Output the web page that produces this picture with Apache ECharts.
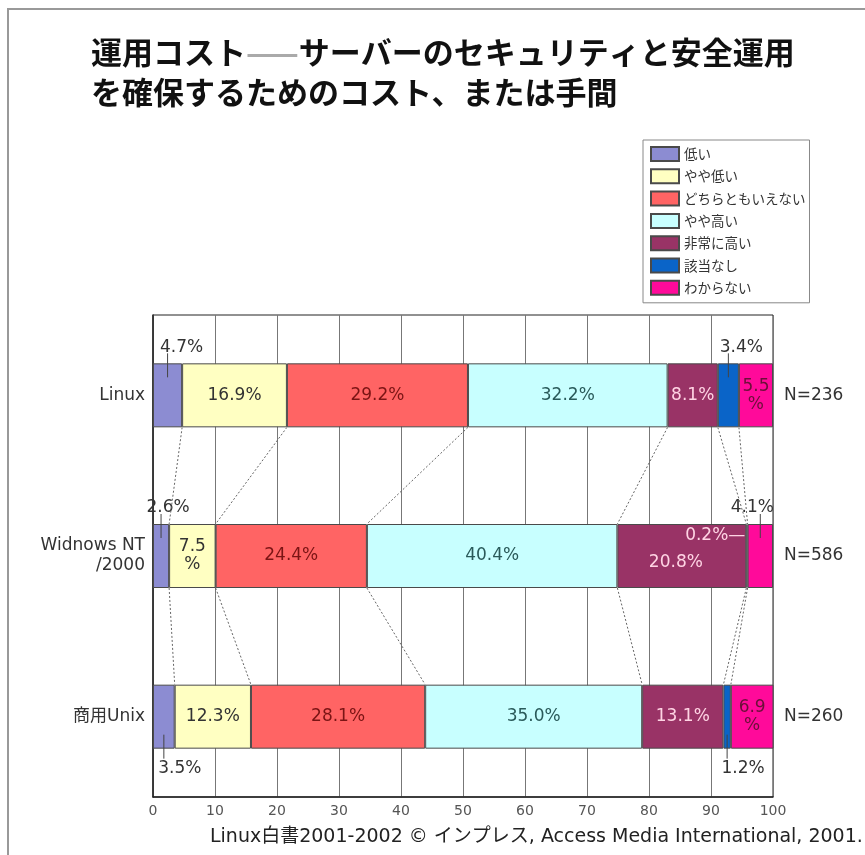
<!DOCTYPE html>
<html>
<head>
<meta charset="utf-8">
<script src="https://cdn.jsdelivr.net/npm/echarts@6/dist/echarts.min.js"></script>
<style>
html,body{margin:0;padding:0;background:#fff;}
#chart{width:865px;height:855px;}
</style>
</head>
<body>
<div id="chart"></div>
<script>
// ---- data ----
const categories = ['Linux', 'Widnows NT\n/2000', '商用Unix'];
const nLabels = ['N=236', 'N=586', 'N=260'];
const seriesNames = ['低い', 'やや低い', 'どちらともいえない', 'やや高い', '非常に高い', '該当なし', 'わからない'];
const low          = [4.7, 2.6, 3.5];
const slightlyLow  = [16.9, 7.5, 12.3];
const neutral      = [29.2, 24.4, 28.1];
const slightlyHigh = [32.2, 40.4, 35.0];
const veryHigh     = [8.1, 20.8, 13.1];
const notApplicable= [3.4, 0.2, 1.2];
const unknown      = [5.5, 4.1, 6.9];
const xTicks = { min: 0, max: 100, interval: 10 };
const titleLines = ['運用コスト{d|——}サーバーのセキュリティと安全運用', 'を確保するためのコスト、または手間'];
const sourceText = 'Linux白書2001-2002 © インプレス, Access Media International, 2001.';

// ---- styles ----
const allValues = [low, slightlyLow, neutral, slightlyHigh, veryHigh, notApplicable, unknown];
const colors = ['#8c8cd2', '#ffffc2', '#ff6464', '#c8ffff', '#993366', '#0a64c8', '#ff0a9a'];
const labelColors = ['#333', '#333', '#7a1414', '#2a5a5a', '#ffd4e4', '#333', '#6a1038'];
const BAR_H = 64;
const FONT = '"Noto Sans CJK JP", "Noto Sans", sans-serif';
const FONT_L = '"DejaVu Sans", "Noto Sans CJK JP", sans-serif';

// per-item label placement overrides (style only)
const labelOverrides = {
  '0-0': { position: 'top', offset: [14, -2], color: '#333' },
  '5-0': { position: 'top', offset: [13, -2], color: '#333' },
  '0-1': { position: 'top', offset: [7, -2], color: '#333' },
  '6-1': { position: 'top', offset: [-8, -2], color: '#333' },
  '0-2': { position: 'bottom', offset: [16, 6], color: '#333' },
  '5-2': { position: 'bottom', offset: [16, 6], color: '#333' },
  '5-1': { position: 'left', distance: 1, offset: [0, -20], color: '#ffd4e4', suffix: '—' },
  '4-1': { offset: [-6, 7] },
  '1-1': { twoLine: true },
  '6-0': { twoLine: true },
  '6-2': { twoLine: true }
};
const leaderLines = [
  { s: 0, c: 0, side: 'top' }, { s: 5, c: 0, side: 'top' },
  { s: 0, c: 1, side: 'top' }, { s: 6, c: 1, side: 'top' },
  { s: 0, c: 2, side: 'bottom' }, { s: 5, c: 2, side: 'bottom' }
];

// cumulative boundaries
const cum = categories.map((_, c) => {
  let acc = 0; const out = [];
  allValues.forEach(arr => { out.push(acc); acc += arr[c]; });
  out.push(acc);
  return out;
});

function fmt(v) { return v.toFixed(1) + '%'; }

const barSeries = seriesNames.map((name, s) => ({
  name: name,
  type: 'bar',
  stack: 'total',
  barWidth: BAR_H,
  z: 3,
  itemStyle: { color: colors[s], borderColor: '#4a4a4a', borderWidth: 1 },
  label: {
    show: true, position: 'inside', fontSize: 17, fontFamily: FONT_L,
    color: labelColors[s]
  },
  data: allValues[s].map((v, c) => {
    const o = labelOverrides[s + '-' + c] || {};
    let text = fmt(v);
    if (o.twoLine) text = v.toFixed(1) + '\n%';
    if (o.suffix) text = text + o.suffix;
    const lab = { formatter: text, lineHeight: 18 };
    if (o.position) lab.position = o.position;
    if (o.offset) lab.offset = o.offset;
    if (o.color) lab.color = o.color;
    if (o.distance !== undefined) lab.distance = o.distance;
    return { value: v, label: lab };
  })
}));

const overlaySeries = {
  type: 'custom',
  coordinateSystem: 'cartesian2d',
  silent: true,
  z: 6,
  data: [[0, 0]],
  renderItem: function (params, api) {
    const children = [];
    for (let c = 0; c < categories.length - 1; c++) {
      for (let k = 1; k < allValues.length; k++) {
        const p1 = api.coord([cum[c][k], c]);
        const p2 = api.coord([cum[c + 1][k], c + 1]);
        children.push({
          type: 'line',
          shape: { x1: p1[0], y1: p1[1] + BAR_H / 2, x2: p2[0], y2: p2[1] - BAR_H / 2 },
          style: { stroke: '#666', lineWidth: 1, lineDash: [2, 2] }
        });
      }
    }
    leaderLines.forEach(l => {
      const v = allValues[l.s][l.c];
      const p = api.coord([cum[l.c][l.s] + v / 2, l.c]);
      let y1, y2;
      if (l.side === 'top') { y1 = p[1] - BAR_H / 2 - 10; y2 = p[1] - BAR_H / 2 + 14; }
      else { y1 = p[1] + BAR_H / 2 - 14; y2 = p[1] + BAR_H / 2 + 10; }
      children.push({
        type: 'line',
        shape: { x1: p[0], y1: y1, x2: p[0], y2: y2 },
        style: { stroke: '#444', lineWidth: 1 }
      });
    });
    return { type: 'group', children: children };
  }
};

const chart = echarts.init(document.getElementById('chart'));
chart.setOption({
  backgroundColor: '#fff',
  animation: false,
  textStyle: { fontFamily: FONT },
  title: {
    left: 86, top: 27,
    text: titleLines.join('\n'),
    textStyle: {
      fontFamily: FONT, fontSize: 31, fontWeight: 'bold', color: '#111', lineHeight: 40,
      rich: { d: { fontFamily: FONT, fontSize: 31, fontWeight: 'bold', color: '#aaa', lineHeight: 40 } }
    }
  },
  legend: {
    orient: 'vertical', left: 643, top: 140,
    data: seriesNames,
    icon: 'rect', itemWidth: 28, itemHeight: 14, itemGap: 6.3,
    padding: [6, 4, 7, 7],
    backgroundColor: '#fff', borderColor: '#888', borderWidth: 1,
    textStyle: { fontSize: 13.5, color: '#333', fontFamily: FONT }
  },
  grid: { left: 153, right: 92, top: 315, bottom: 58, show: true, borderColor: '#222', borderWidth: 1, backgroundColor: '#fff' },
  xAxis: {
    type: 'value', min: xTicks.min, max: xTicks.max, interval: xTicks.interval,
    axisLine: { show: true, lineStyle: { color: '#222', width: 1.5 } },
    axisTick: { show: false },
    splitLine: { show: true, lineStyle: { color: '#777', width: 1 } },
    axisLabel: { color: '#555', fontSize: 14, margin: 7, fontFamily: FONT_L }
  },
  yAxis: [{
    type: 'category', data: categories, inverse: true,
    axisLine: { show: true, lineStyle: { color: '#222', width: 1.5 } },
    axisTick: { show: false },
    axisLabel: { color: '#333', fontSize: 17, margin: 8, fontFamily: FONT_L, lineHeight: 20, align: 'right' }
  }, {
    type: 'category', data: nLabels, inverse: true, position: 'right',
    axisLine: { show: false }, axisTick: { show: false },
    axisLabel: { color: '#333', fontSize: 17, margin: 11, fontFamily: FONT_L }
  }],
  series: barSeries.concat([overlaySeries]),
  graphic: [
    { type: 'rect', shape: { x: 8, y: 9, width: 900, height: 900 }, style: { fill: 'none', stroke: '#999', lineWidth: 2 }, silent: true, z: -1 },
    { type: 'text', left: 210, top: 828, style: { text: sourceText, fontSize: 19, fill: '#222', fontFamily: FONT_L } }
  ]
});
</script>
</body>
</html>
